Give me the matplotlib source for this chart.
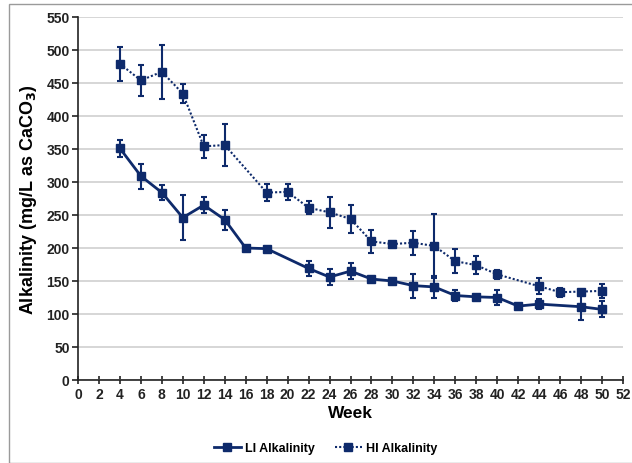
import matplotlib
matplotlib.use("Agg")
import matplotlib.pyplot as plt
from matplotlib.patches import Rectangle
from matplotlib.lines import Line2D

plt.rcParams['font.family'] = ['Liberation Sans', 'DejaVu Sans']

li_weeks = [4, 6, 8, 10, 12, 14, 16, 18, 22, 24, 26, 28, 30, 32, 34, 36, 38, 40, 42, 44, 48, 50]
li_vals = [351, 309, 284, 246, 265, 243, 200, 199, 169, 156, 165, 153, 150, 143, 141, 128, 126, 125, 112, 115, 111, 107]
li_err = [13, 19, 12, 34, 12, 15, 0, 0, 11, 12, 12, 2, 4, 18, 17, 8, 3, 11, 2, 7, 20, 12]

hi_weeks = [4, 6, 8, 10, 12, 14, 18, 20, 22, 24, 26, 28, 30, 32, 34, 36, 38, 40, 44, 46, 48, 50]
hi_vals = [479, 454, 467, 434, 354, 356, 284, 285, 261, 254, 244, 210, 206, 208, 203, 180, 174, 160, 142, 133, 134, 135]
hi_err = [26, 24, 41, 15, 17, 32, 13, 12, 10, 24, 21, 18, 3, 18, 49, 18, 14, 7, 12, 7, 3, 10]

navy = '#0e2a6b'
hi_ls = (0, (1, 1))

fig = plt.figure(figsize=(6.32, 4.64), dpi=100)
ax = fig.add_axes([78/632, 1-381/464, 545/632, 363/464])

ax.errorbar(li_weeks, li_vals, yerr=li_err, color=navy, lw=2, marker='s', ms=5.5,
            capsize=2, elinewidth=1.5, capthick=1.5, zorder=3)
ax.errorbar(hi_weeks, hi_vals, yerr=hi_err, color=navy, lw=1.5, ls=hi_ls, marker='s', ms=5.5,
            capsize=2, elinewidth=1.5, capthick=1.5, zorder=3)

ax.set_xlim(0, 52)
ax.set_ylim(0, 550)
ax.set_xticks(range(0, 53, 2))
ax.set_yticks(range(0, 551, 50))
ax.yaxis.grid(True, color='#d0d0d0', lw=1.2)
ax.set_axisbelow(True)
for s in ['top', 'right']:
    ax.spines[s].set_visible(False)
for s in ['left', 'bottom']:
    ax.spines[s].set_color('#222222')
    ax.spines[s].set_linewidth(1.2)
ax.tick_params(axis='both', labelsize=10, colors='#222222', width=1.2)
ax.tick_params(axis='x', direction='inout', length=6, pad=2)
ax.tick_params(axis='y', direction='out', length=4, pad=2)
for lab in ax.get_xticklabels() + ax.get_yticklabels():
    lab.set_fontweight('bold')

ax.set_xlabel('Week', fontsize=12.5, fontweight='bold', labelpad=3)
ax.set_ylabel('Alkalinity (mg/L as CaCO$_\\mathbf{3}$)', fontsize=13, fontweight='bold', labelpad=5)

handles = [Line2D([], [], color=navy, lw=2, marker='s', ms=5.5),
           Line2D([], [], color=navy, lw=1.5, ls=hi_ls, marker='s', ms=5.5)]
fig.legend(handles, ['LI Alkalinity', 'HI Alkalinity'], loc='center',
           bbox_to_anchor=(0.515, 1-449/464), ncol=2, frameon=False,
           prop={'weight': 'bold', 'size': 9}, handlelength=2.2, columnspacing=1.6,
           handletextpad=0.3)

fig.patches.append(Rectangle((9/632, 0), 1, 1-5/464, transform=fig.transFigure,
                             fill=False, edgecolor='#9a9a9a', lw=1))

fig.savefig('out.png', dpi=100)
